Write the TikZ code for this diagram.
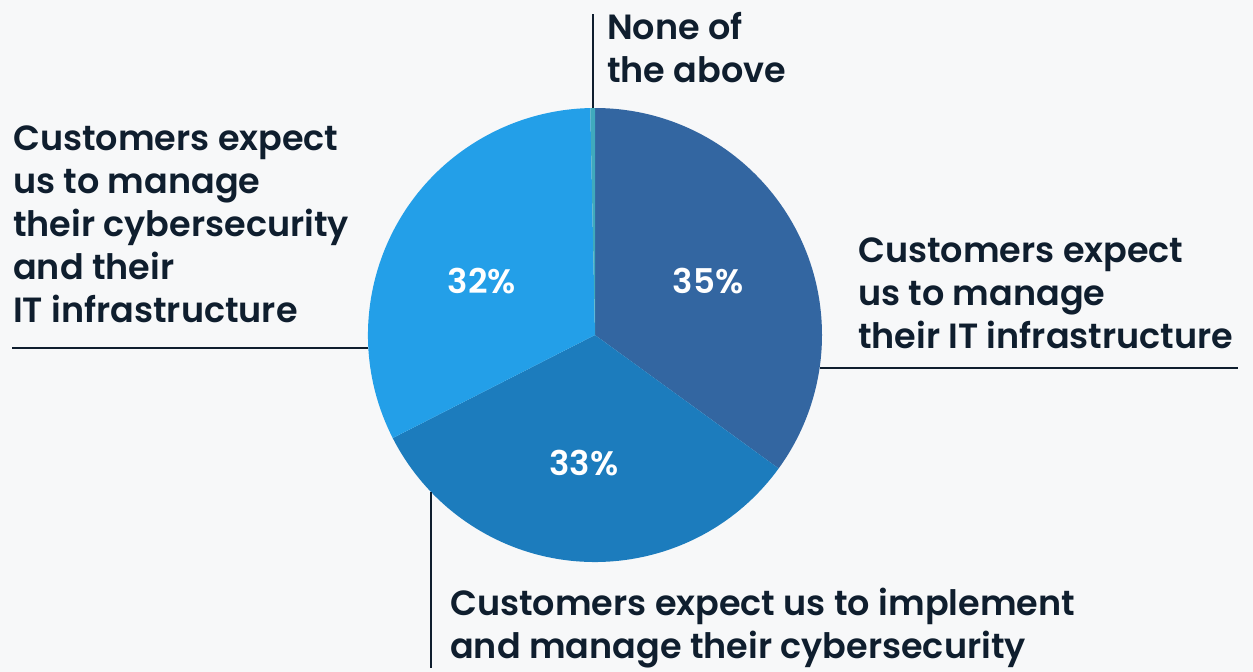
\documentclass[tikz,border=0pt]{standalone}
\usepackage{fontspec}
\setmainfont{Poppins}[UprightFont=* SemiBold, BoldFont=* Bold]
\definecolor{bgc}{HTML}{F7F8F9}
\definecolor{ink}{HTML}{0F1E2E}
\definecolor{sA}{HTML}{3366A1}
\definecolor{sB}{HTML}{1C7CBD}
\definecolor{sC}{HTML}{239FE8}
\definecolor{sD}{HTML}{40AABD}
\tikzset{
  lbl/.style={text=ink, inner sep=0pt, align=left, anchor=base west, font=\fontsize{35}{43}\selectfont},
  pct/.style={text=white, inner sep=0pt, anchor=center, font=\fontsize{34}{34}\selectfont},
  leader/.style={draw=ink, line width=2.3pt}
}
\begin{document}
\begin{tikzpicture}[x=1pt,y=1pt]
\fill[bgc] (0,0) rectangle (1253,-672);
\useasboundingbox (0,0) rectangle (1253,-672);
\coordinate (c) at (595,-335);
\def\R{227}
\fill[sA] (c) -- ++(90:\R) arc[start angle=90,end angle=-36,radius=\R] -- cycle;
\fill[sB] (c) -- ++(-36:\R) arc[start angle=-36,end angle=-153,radius=\R] -- cycle;
\fill[sC] (c) -- ++(-153:\R) arc[start angle=-153,end angle=-268.8,radius=\R] -- cycle;
\fill[sD] (c) -- ++(-268.8:\R) arc[start angle=-268.8,end angle=-270,radius=\R] -- cycle;
% percentage labels
\node[pct] (pA) at (708,-281) {35\%};
\node[pct] (pB) at (584,-463) {33\%};
\node[pct] (pC) at (482,-281) {32\%};
% leader endpoints on the pie
\coordinate (eD) at (593,-108);
\coordinate (eD2) at (593,-14);
\coordinate (eC) at (368.4,-348);
\coordinate (eC2) at (12,-348);
\coordinate (eA) at (819.6,-368);
\coordinate (eA2) at (1238,-368);
\coordinate (eB) at (431,-492);
\coordinate (eB2) at (431,-668);
\draw[leader] (eD) -- (eD2);
\draw[leader] (eC) -- (eC2);
\draw[leader] (eA) -- (eA2);
\draw[leader] (eB) -- (eB2);
% text labels (base anchor = baseline of last line)
\node[lbl] (tD) at (607,-82) {None of\\the above};
\node[lbl] (tC) at (13,-322) {Customers expect\\us to manage\\their cybersecurity\\and their\\IT infrastructure};
\node[lbl] (tA) at (858,-348) {Customers expect\\us to manage\\their IT infrastructure};
\node[lbl] (tB) at (450,-658) {Customers expect us to implement\\and manage their cybersecurity};
\end{tikzpicture}
\end{document}
